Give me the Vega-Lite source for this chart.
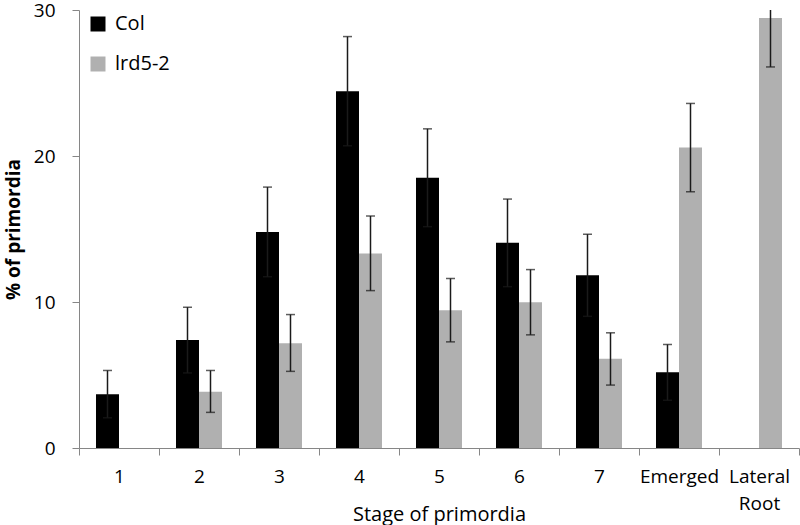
{
  "$schema": "https://vega.github.io/schema/vega-lite/v6.json",
  "autosize": "none",
  "width": 720,
  "height": 438,
  "padding": {"left": 79, "top": 10, "right": 1, "bottom": 77},
  "background": "white",
  "config": {
    "view": {"stroke": null},
    "font": "Open Sans",
    "axis": {"domainColor": "#868686", "tickColor": "#868686", "grid": false, "labelColor": "#000", "titleColor": "#000", "labelFontSize": 19, "titleFontSize": 20, "labelFont": "Open Sans", "titleFont": "Open Sans"}
  },
  "data": {
    "values": [
      {"stage": "1", "genotype": "Col", "value": 3.69, "lo": 2.07, "hi": 5.31},
      {"stage": "1", "genotype": "lrd5-2", "value": 0, "lo": null, "hi": null},
      {"stage": "2", "genotype": "Col", "value": 7.39, "lo": 5.14, "hi": 9.64},
      {"stage": "2", "genotype": "lrd5-2", "value": 3.85, "lo": 2.44, "hi": 5.31},
      {"stage": "3", "genotype": "Col", "value": 14.8, "lo": 11.73, "hi": 17.87},
      {"stage": "3", "genotype": "lrd5-2", "value": 7.18, "lo": 5.25, "hi": 9.14},
      {"stage": "4", "genotype": "Col", "value": 24.44, "lo": 20.7, "hi": 28.18},
      {"stage": "4", "genotype": "lrd5-2", "value": 13.32, "lo": 10.78, "hi": 15.89},
      {"stage": "5", "genotype": "Col", "value": 18.51, "lo": 15.16, "hi": 21.86},
      {"stage": "5", "genotype": "lrd5-2", "value": 9.44, "lo": 7.27, "hi": 11.61},
      {"stage": "6", "genotype": "Col", "value": 14.05, "lo": 11.05, "hi": 17.05},
      {"stage": "6", "genotype": "lrd5-2", "value": 9.99, "lo": 7.75, "hi": 12.22},
      {"stage": "7", "genotype": "Col", "value": 11.83, "lo": 9.02, "hi": 14.64},
      {"stage": "7", "genotype": "lrd5-2", "value": 6.11, "lo": 4.31, "hi": 7.89},
      {"stage": "Emerged", "genotype": "Col", "value": 5.18, "lo": 3.27, "hi": 7.09},
      {"stage": "Emerged", "genotype": "lrd5-2", "value": 20.59, "lo": 17.55, "hi": 23.6},
      {"stage": "Lateral Root", "genotype": "Col", "value": 0, "lo": null, "hi": null},
      {"stage": "Lateral Root", "genotype": "lrd5-2", "value": 29.45, "lo": 26.1, "hi": 32.8}
    ]
  },
  "encoding": {
    "x": {
      "field": "stage", "type": "nominal", "sort": null,
      "scale": {"paddingInner": 0, "paddingOuter": 0},
      "axis": {
        "title": "Stage of primordia", "labelAngle": 0, "tickBand": "extent", "tickSize": 7,
        "labelPadding": 12, "titleFontWeight": "normal",
        "titleBaseline": "alphabetic", "titleY": 72,
        "labelExpr": "datum.label == 'Lateral Root' ? ['Lateral', 'Root'] : datum.label",
        "labelLineHeight": 27
      }
    },
    "xOffset": {
      "field": "genotype", "type": "nominal", "sort": ["Col", "lrd5-2"],
      "scale": {"paddingInner": 0, "paddingOuter": 0.739}
    }
  },
  "layer": [
    {
      "mark": {"type": "bar"},
      "encoding": {
        "y": {
          "field": "value", "type": "quantitative",
          "scale": {"domain": [0, 30], "nice": false},
          "axis": {
            "title": "% of primordia", "values": [0, 10, 20, 30], "tickSize": 7, "labelPadding": 17,
            "titleFontWeight": "bold", "titleFontSize": 19, "titleAngle": -90,
            "titleBaseline": "alphabetic", "titleAlign": "center", "titleX": -60, "titleY": 219
          }
        },
        "color": {
          "field": "genotype", "type": "nominal",
          "scale": {"domain": ["Col", "lrd5-2"], "range": ["#000000", "#b0b0b0"]},
          "legend": {
            "title": null, "orient": "none", "legendX": 9, "legendY": 4,
            "symbolType": "square", "symbolSize": 225, "symbolStrokeWidth": 0,
            "labelFontSize": 20, "labelFont": "Open Sans", "labelOffset": 7, "rowPadding": 20
          }
        }
      }
    },
    {
      "transform": [{"filter": "isValid(datum.lo)"}],
      "mark": {"type": "rule", "color": "#1a1a1a", "strokeWidth": 1.5, "clip": true},
      "encoding": {
        "y": {"field": "lo", "type": "quantitative"},
        "y2": {"field": "hi"}
      }
    },
    {
      "transform": [{"filter": "isValid(datum.lo)"}],
      "mark": {"type": "tick", "color": "#1a1a1a", "thickness": 1.5, "size": 9, "clip": true},
      "encoding": {
        "y": {"field": "hi", "type": "quantitative"}
      }
    },
    {
      "transform": [{"filter": "isValid(datum.lo)"}],
      "mark": {"type": "tick", "color": "#1a1a1a", "thickness": 1.5, "size": 9, "clip": true},
      "encoding": {
        "y": {"field": "lo", "type": "quantitative"}
      }
    }
  ]
}
